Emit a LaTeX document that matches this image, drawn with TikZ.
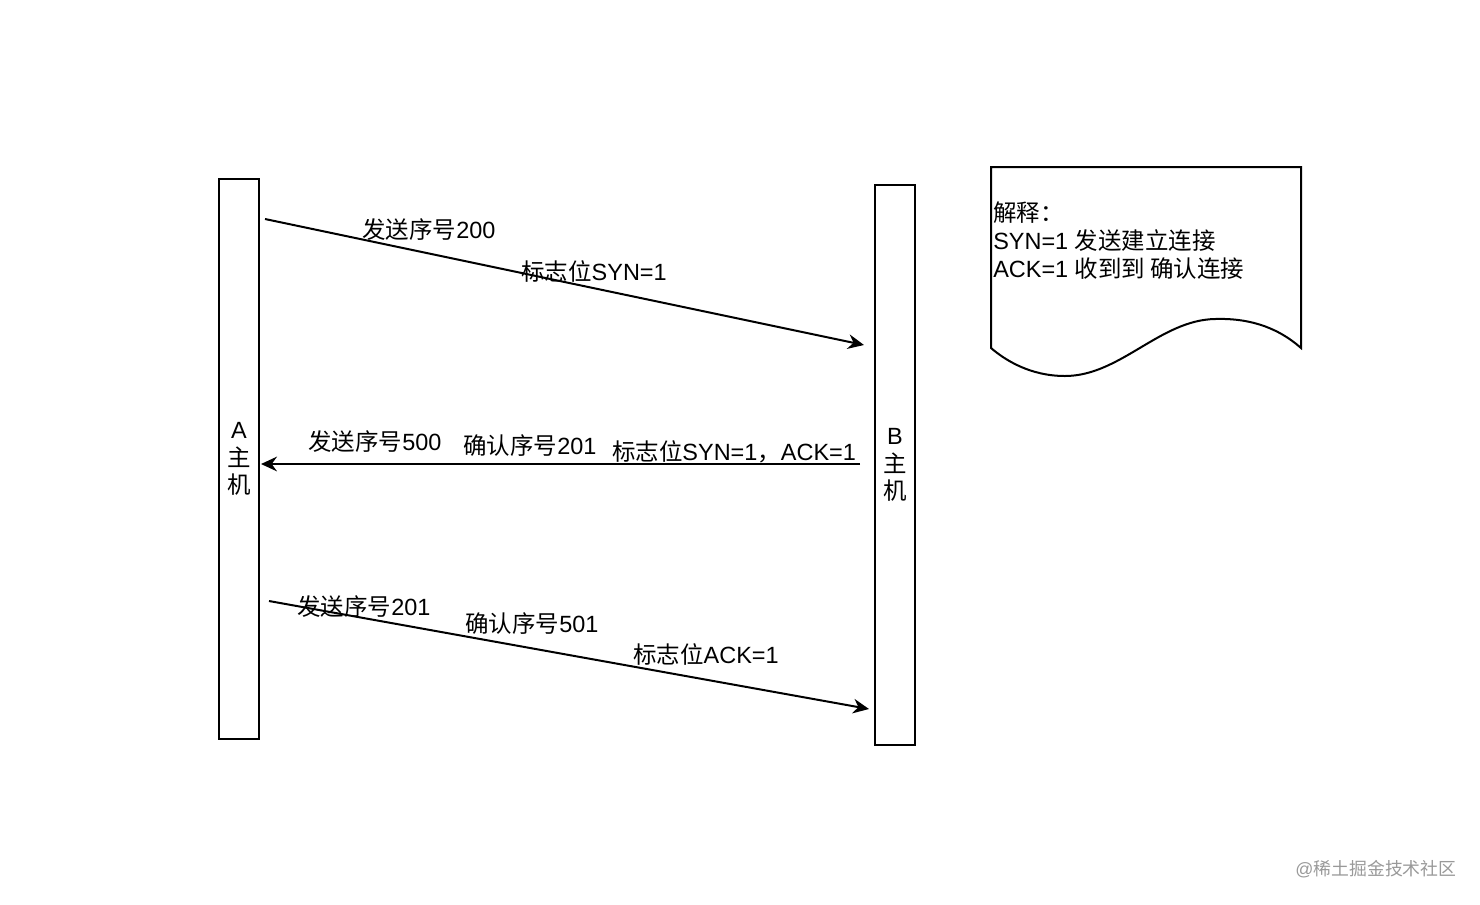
\documentclass[tikz,border=0pt]{standalone}
\usepackage{fontspec}
\setmainfont{Liberation Sans}
\newfontfamily\cjk{Noto Sans CJK SC}
\usetikzlibrary{arrows.meta,positioning}
\tikzset{
  host/.style={draw=black, line width=1.5pt, minimum width=30pt, minimum height=420pt, align=center, inner sep=0pt, font=\fontsize{17.6}{20.5}\selectfont},
  msg/.style={-{Stealth[length=12pt, width=11pt, inset=4pt]}, line width=1.5pt, draw=black},
  tag/.style={inner sep=0pt, font=\fontsize{17.6}{20}\selectfont}
}

\begin{document}
\begin{tikzpicture}[x=0.75pt, y=-0.75pt]
  \useasboundingbox (0,0) rectangle (1480,904);

  \node[host] (A) at (239,459) {A\\{\cjk 主}\\{\cjk 机}};
  \node[host] (B) at (895,465) {B\\{\cjk 主}\\{\cjk 机}};

  \coordinate (s1) at (265,219);
  \coordinate (e1) at (864,345);
  \coordinate (s2) at (860,464);
  \coordinate (e2) at (261,464);
  \coordinate (s3) at (269,601);
  \coordinate (e3) at (869,709);

  \draw[msg] (s1) -- (e1);
  \draw[msg] (s2) -- (e2);
  \draw[msg] (s3) -- (e3);

  \node[tag] (t1a) at (429,230) {{\cjk 发送序号}200};
  \node[tag] (t1b) at (594,271) {{\cjk 标志位}SYN=1};
  \node[tag] (t2a) at (375,442) {{\cjk 发送序号}500};
  \node[tag] (t2b) at (530,446) {{\cjk 确认序号}201};
  \node[tag] (t2c) at (734,452) {{\cjk 标志位}SYN=1{\cjk ，}ACK=1};
  \node[tag] (t3a) at (364,607) {{\cjk 发送序号}201};
  \node[tag] (t3b) at (532,624) {{\cjk 确认序号}501};
  \node[tag] (t3c) at (706,654) {{\cjk 标志位}ACK=1};

  % note sheet
  \draw[line width=1.5pt] (991,167) -- (1301,167) -- (1301,348)
    .. controls (1275,325) and (1245,318) .. (1215,319)
    .. controls (1160,320) and (1120,376) .. (1065,376)
    .. controls (1030,376) and (1005,360) .. (991,348) -- cycle;
  \node[tag, anchor=west, align=left, font=\fontsize{17.6}{21}\selectfont] (note) at (993,241)
    {{\cjk 解释：}\\SYN=1 {\cjk 发送建立连接}\\ACK=1 {\cjk 收到到 确认连接}};

  \node[tag, text=black!40, font=\fontsize{13.4}{15}\selectfont] (mark) at (1376,869) {@{\cjk 稀土掘金技术社区}};
\end{tikzpicture}
\end{document}
